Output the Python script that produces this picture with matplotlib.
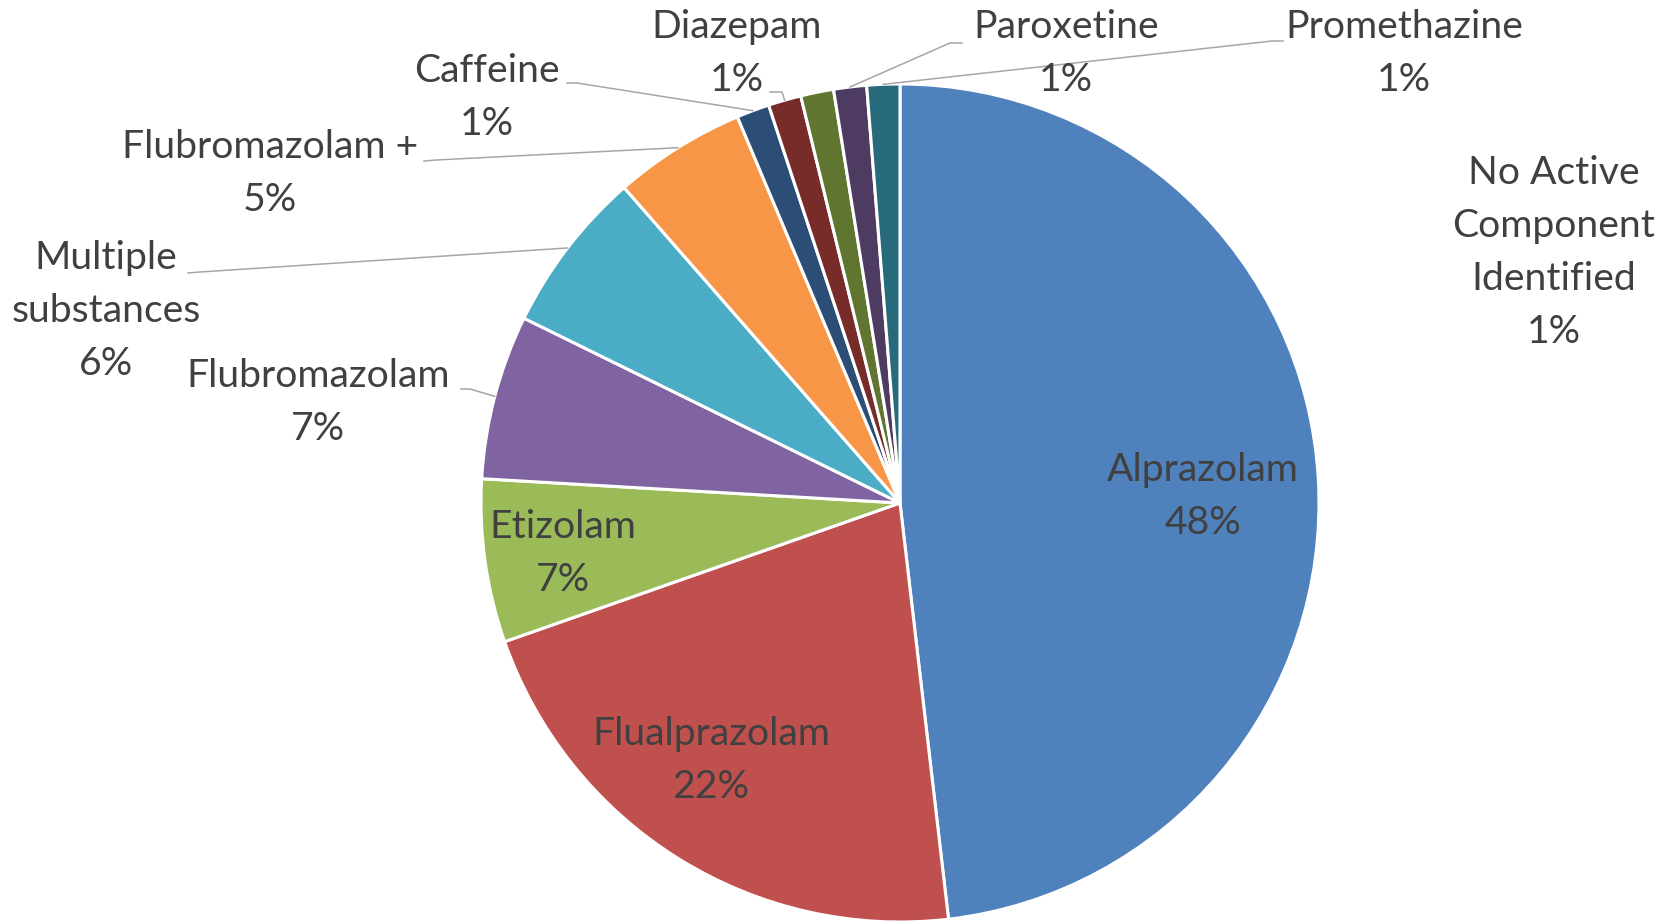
import matplotlib
matplotlib.use("Agg")
import matplotlib.pyplot as plt
from matplotlib.lines import Line2D
import numpy as np

# ---- data ----
categories = ["Alprazolam", "Flualprazolam", "Etizolam", "Flubromazolam",
              "Multiple substances", "Flubromazolam +", "Caffeine", "Diazepam",
              "No Active Component Identified", "Paroxetine", "Promethazine"]
values = [48.2, 21.5, 6.3, 6.35, 6.3, 5.1, 1.27, 1.27, 1.27, 1.27, 1.27]
pct_labels = ["48%", "22%", "7%", "7%", "6%", "5%", "1%", "1%", "1%", "1%", "1%"]
label_lines = [["Alprazolam"], ["Flualprazolam"], ["Etizolam"], ["Flubromazolam"],
               ["Multiple", "substances"], ["Flubromazolam +"], ["Caffeine"], ["Diazepam"],
               ["No Active", "Component", "Identified"], ["Paroxetine"], ["Promethazine"]]

colors = ["#4F81BD", "#C0504D", "#9BBB59", "#8064A2", "#4BACC6", "#F79646",
          "#2C4D75", "#772C2A", "#5F7530", "#4D3B62", "#276A7C"]

# ---- layout (pixels, top-left origin) ----
W, H = 1666, 923
cx, cy, R = 900, 503, 419
# label center x and baseline y of the percent line
label_pos = [(1203, 534), (711, 798), (563, 591), (318, 440), (106, 375), (270, 211),
             (487, 135), (737, 91), (1554, 343), (1066, 91), (1404, 91)]
line_pitch = 53
# leader start points (label side), None = no leader
leader_start = [None, None, None, [(461, 389), (470, 389)], [(188, 273), (200, 272)],
                [(424, 161), (436, 160)], [(567, 83), (577, 83)], [(770, 92), (782, 92)],
                None, [(962, 43), (950, 43)], [(1283, 41), (1272, 41)]]

fig = plt.figure(figsize=(W / 100, H / 100), dpi=100)
fig.patch.set_facecolor("white")
ax = fig.add_axes([(cx - R) / W, (H - cy - R) / H, 2 * R / W, 2 * R / H])
wedges, _ = ax.pie(values, colors=colors, startangle=90, counterclock=False, radius=1,
                   wedgeprops=dict(edgecolor="white", linewidth=2.2))
ax.set_xlim(-1, 1)
ax.set_ylim(-1, 1)
ax.set_aspect("equal")
ax.axis("off")

FONT = "Lato"
TXT = "#404040"

# fit font size so that "Flualprazolam" is ~238 px wide
renderer = fig.canvas.get_renderer()
probe = fig.text(0, 0, "Flualprazolam", fontsize=30, family=FONT)
w = probe.get_window_extent(renderer=renderer).width
probe.remove()
fs = 30 * 238.0 / w


def fig_xy(px, py):
    return px / W, 1 - py / H


for i, lines in enumerate(label_lines):
    x, yb = label_pos[i]
    all_lines = lines + [pct_labels[i]]
    n = len(all_lines)
    for j, s in enumerate(all_lines):
        y = yb - (n - 1 - j) * line_pitch
        fx, fy = fig_xy(x, y)
        fig.text(fx, fy, s, ha="center", va="baseline", fontsize=fs, family=FONT, color=TXT)

# leaders to wedge mid rim
for i, pts in enumerate(leader_start):
    if pts is None:
        continue
    wdg = wedges[i]
    mid = np.deg2rad((wdg.theta1 + wdg.theta2) / 2)
    rim = ax.transData.transform((np.cos(mid), np.sin(mid)))
    xs = [p[0] / W for p in pts] + [rim[0] / W]
    ys = [1 - p[1] / H for p in pts] + [rim[1] / H]
    fig.add_artist(Line2D(xs, ys, color="#A6A6A6", linewidth=1.1, transform=fig.transFigure))

fig.savefig("out.png", dpi=100, facecolor="white")
